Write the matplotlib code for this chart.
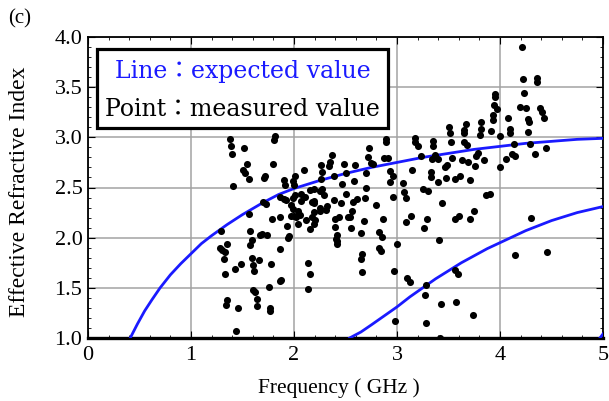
import matplotlib
matplotlib.use("Agg")
import matplotlib.pyplot as plt
from matplotlib.patches import Rectangle
from matplotlib.ticker import MultipleLocator

# ---------------- data ----------------
meas_f = [
    1.38, 1.39, 1.40, 1.51, 1.54, 1.50, 1.52, 1.56, 1.41, 1.29, 1.35, 1.28, 1.30, 1.33, 1.32,
    1.33, 1.43, 1.49, 1.57, 1.59, 1.57, 1.59, 1.60, 1.61, 1.66, 1.60, 1.62, 1.64, 1.64, 1.35,
    1.34, 1.46, 1.44, 1.56, 1.67, 1.69, 1.74, 1.70, 1.73, 1.72, 1.71, 1.78, 1.76, 1.77, 1.77,
    1.79, 1.81, 1.82, 1.80, 1.86, 1.86, 1.87, 1.90, 1.91, 1.86, 1.92, 1.90, 1.86, 1.93, 1.95,
    1.94, 1.97, 1.99, 2.00, 2.02, 2.04, 2.04, 2.06, 1.97, 1.99, 2.07, 2.11, 2.00, 2.01, 1.99,
    2.10, 2.01, 2.07, 2.16, 2.19, 2.19, 2.25, 2.27, 2.32, 2.31, 2.25, 2.19, 2.25, 2.19, 2.17,
    2.20, 2.12, 2.19, 2.16, 2.14, 2.16, 2.14, 2.26, 2.27, 2.26, 2.34, 2.37, 2.35, 2.39, 2.50,
    2.49, 2.59, 2.47, 2.58, 2.29, 2.50, 2.17, 2.39, 2.46, 2.57, 2.61, 2.69, 2.56, 2.54, 2.52,
    2.40, 2.44, 2.40, 2.55, 2.42, 2.41, 2.42, 2.42, 2.65, 2.68, 2.66, 2.65, 2.66, 2.70, 2.70,
    2.72, 2.75, 2.77, 2.73, 2.80, 2.86, 2.83, 2.85, 2.83, 2.84, 2.87, 2.91, 2.89, 2.89, 2.93,
    2.96, 2.93, 2.96, 2.97, 3.00, 2.98, 3.06, 3.07, 3.09, 3.10, 3.13, 3.14, 3.09, 3.15, 3.17,
    3.20, 3.17, 3.23, 3.25, 3.30, 3.26, 3.29, 3.28, 3.27, 3.28, 3.33, 3.33, 3.34, 3.37, 3.40,
    3.35, 3.35, 3.40, 3.41, 3.43, 3.42, 3.44, 3.47, 3.49, 3.48, 3.50, 3.51, 3.52, 3.53, 3.56,
    3.61, 3.56, 3.60, 3.56, 3.59, 3.57, 3.63, 3.65, 3.68, 3.67, 3.65, 3.65, 3.69, 3.71, 3.71,
    3.75, 3.74, 3.76, 3.77, 3.79, 3.84, 3.82, 3.82, 3.81, 3.86, 3.90, 3.91, 3.95, 3.95, 3.94,
    3.97, 3.93, 3.93, 4.00, 4.00, 4.06, 4.08, 4.10, 4.10, 4.12, 4.15, 4.14, 4.15, 4.21, 4.22,
    4.23, 4.19, 4.25, 4.27, 4.28, 4.27, 4.29, 4.34, 4.36, 4.36, 4.39, 4.41, 4.43, 4.45, 4.30,
    4.46,
]
meas_n = [
    2.98, 2.91, 2.83, 2.89, 2.73, 2.67, 2.64, 2.58, 2.51, 2.07, 1.94, 1.90, 1.88, 1.86, 1.79,
    1.64, 1.69, 1.74, 2.07, 1.98, 1.93, 1.80, 1.73, 1.67, 1.78, 1.48, 1.46, 1.39, 1.32, 1.38,
    1.33, 1.30, 1.07, 2.24, 2.03, 2.04, 2.03, 2.36, 2.34, 2.61, 2.59, 1.74, 1.51, 1.30, 1.27,
    2.19, 2.97, 3.01, 2.73, 1.89, 1.57, 1.58, 2.57, 2.52, 2.41, 2.38, 2.39, 2.21, 2.12, 2.02,
    2.00, 2.22, 2.29, 2.22, 2.21, 2.14, 2.27, 2.23, 2.33, 2.40, 2.37, 2.41, 2.52, 2.61, 2.56,
    2.67, 2.43, 2.44, 2.48, 2.49, 2.37, 2.47, 2.49, 2.32, 2.28, 2.27, 2.35, 2.30, 2.26, 2.21,
    2.18, 2.18, 2.14, 2.09, 1.75, 1.64, 1.49, 2.72, 2.65, 2.58, 2.71, 2.82, 2.75, 2.61, 2.64,
    2.73, 2.72, 2.53, 2.56, 2.43, 2.44, 2.36, 2.38, 2.35, 2.36, 2.39, 2.40, 2.27, 2.21, 2.21,
    2.19, 2.21, 2.11, 2.10, 2.03, 1.99, 1.94, 1.97, 2.05, 2.17, 1.84, 1.79, 1.66, 2.50, 2.64,
    2.80, 2.74, 2.73, 2.89, 2.33, 2.19, 2.06, 2.01, 1.90, 1.87, 2.79, 2.79, 2.95, 2.98, 2.66,
    2.61, 2.55, 2.41, 1.67, 1.94, 1.17, 2.54, 2.46, 2.40, 1.60, 1.56, 2.22, 2.16, 2.67, 2.95,
    2.91, 2.99, 2.81, 2.49, 2.47, 2.10, 2.19, 1.53, 1.43, 1.15, 2.65, 2.60, 2.78, 2.82, 2.78,
    2.96, 2.91, 2.55, 1.98, 1.34, 1.00, 2.35, 2.70, 2.72, 2.59, 3.10, 3.04, 2.95, 2.79, 2.58,
    2.61, 2.19, 2.22, 1.68, 1.64, 1.36, 2.77, 2.95, 2.92, 3.13, 3.07, 3.04, 2.75, 2.57, 2.19,
    2.27, 1.23, 2.71, 2.81, 2.84, 2.77, 3.15, 3.08, 3.02, 2.43, 2.44, 3.06, 3.43, 3.40, 3.32,
    3.28, 3.22, 3.17, 3.01, 2.70, 2.78, 3.19, 3.08, 3.04, 2.83, 2.81, 2.93, 1.83, 3.90, 3.58,
    3.44, 3.30, 3.29, 3.18, 3.15, 3.05, 2.93, 2.83, 3.59, 3.55, 3.29, 3.25, 3.19, 2.89, 2.20,
    1.86,
]

# expected-value curves
upper_f = [0.41, 0.48, 0.55, 0.62, 0.70, 0.80, 0.90, 1.00, 1.10, 1.20, 1.35, 1.50, 1.70, 1.85,
           2.00, 2.25, 2.50, 2.75, 3.00, 3.25, 3.50, 3.75, 4.00, 4.25, 4.50, 4.75, 5.00]
upper_n = [1.00, 1.14, 1.27, 1.38, 1.50, 1.63, 1.74, 1.84, 1.94, 2.02, 2.13, 2.23, 2.35, 2.43,
           2.49, 2.57, 2.64, 2.70, 2.75, 2.80, 2.84, 2.88, 2.91, 2.94, 2.96, 2.98, 2.99]
lower_f = [2.54, 2.65, 2.75, 2.875, 3.00, 3.125, 3.25, 3.375, 3.50, 3.625, 3.75, 3.875, 4.00,
           4.125, 4.25, 4.375, 4.50, 4.625, 4.75, 4.875, 5.00]
lower_n = [1.00, 1.06, 1.13, 1.22, 1.31, 1.41, 1.50, 1.59, 1.67, 1.75, 1.82, 1.89, 1.95,
           2.01, 2.07, 2.12, 2.17, 2.21, 2.25, 2.28, 2.31]
third_f = [4.97, 5.00]
third_n = [1.00, 1.04]

x_ticks = [0, 1, 2, 3, 4, 5]
y_ticks = [1.0, 1.5, 2.0, 2.5, 3.0, 3.5, 4.0]

# ---------------- plot ----------------
serif = ["Liberation Serif", "DejaVu Serif"]
blue = "#1a1aff"
fig = plt.figure(figsize=(6.09, 4.01), dpi=100)
ax = fig.add_axes([88 / 609, 63 / 401, 515 / 609, 301 / 401])

ax.set_xlim(0, 5)
ax.set_ylim(1.0, 4.0)
ax.set_xticks(x_ticks)
ax.set_yticks(y_ticks)
ax.set_xticklabels([str(t) for t in x_ticks], family=serif, fontsize=16)
ax.set_yticklabels([f"{t:.1f}" for t in y_ticks], family=serif, fontsize=16)
ax.xaxis.set_minor_locator(MultipleLocator(0.2))
ax.yaxis.set_minor_locator(MultipleLocator(0.1))
ax.tick_params(which="both", direction="in", top=True, right=True)
ax.tick_params(which="major", length=5, width=0.8)
ax.tick_params(axis="x", which="major", pad=6)
ax.tick_params(axis="y", which="major", pad=4)
ax.tick_params(which="minor", length=2.5, width=0.6)

ax.grid(True, which="major", color="#a3a3a3", lw=1.1, zorder=0)
ax.set_axisbelow(True)

for side in ["left", "top", "right"]:
    ax.spines[side].set_linewidth(1.3)
ax.spines["bottom"].set_linewidth(2.4)

ax.plot(upper_f, upper_n, color=blue, lw=2.0, zorder=3)
ax.plot(lower_f, lower_n, color=blue, lw=2.0, zorder=3)
ax.plot(third_f, third_n, color=blue, lw=2.0, zorder=3)
ax.scatter(meas_f, meas_n, s=26, color="black", zorder=4, linewidths=0)

ax.set_xlabel("Frequency ( GHz )", family=serif, fontsize=15.5)
ax.xaxis.set_label_coords(0.487, -0.135)
ax.set_ylabel("Effective Refractive Index", family=serif, fontsize=17)
ax.yaxis.set_label_coords(-0.113, 0.485)

# legend-like box
box = Rectangle((0.0175, 0.698), 0.565, 0.262, transform=ax.transAxes,
                facecolor="white", edgecolor="black", lw=2.3, zorder=5)
ax.add_patch(box)
legfam = ["DejaVu Serif", "Noto Sans CJK JP"]
ax.text(0.30, 0.884, "Line\uff1aexpected value", transform=ax.transAxes, ha="center", va="center",
        color=blue, fontsize=17, family=legfam, zorder=6)
ax.text(0.30, 0.760, "Point\uff1ameasured value", transform=ax.transAxes, ha="center", va="center",
        color="black", fontsize=17, family=legfam, zorder=6)

fig.text(0.033, 0.953, "(c)", family=serif, fontsize=15, ha="center", va="center")

fig.savefig("out.png", dpi=100)
